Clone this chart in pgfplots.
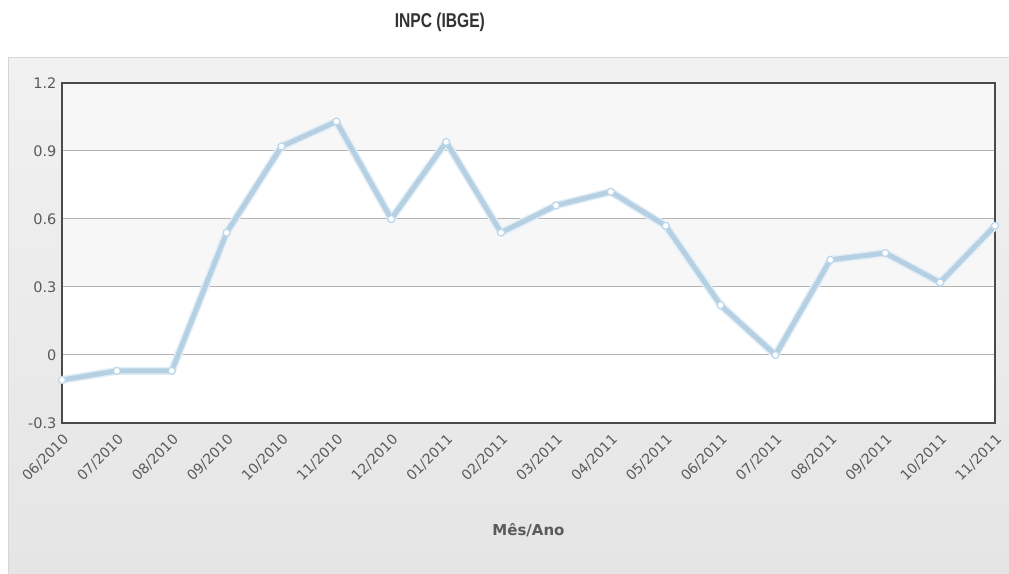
\documentclass[border=0pt]{standalone}
\usepackage{pgfplots}
\pgfplotsset{compat=1.18}
\usepackage{fontspec}
\setmainfont{DejaVu Sans}
\newfontfamily\titlefont[FakeStretch=0.78]{Liberation Sans}

\definecolor{paneltop}{HTML}{F1F1F1}
\definecolor{panelbot}{HTML}{E5E5E5}
\definecolor{panelborder}{HTML}{D6D6D6}
\definecolor{bandgray}{HTML}{F7F7F7}
\definecolor{gridgray}{HTML}{B4B4B4}
\definecolor{framegray}{HTML}{4A4A4A}
\definecolor{labgray}{HTML}{5A5A5A}
\definecolor{linecol}{HTML}{B6D0E3}
\definecolor{halocol}{HTML}{E2EEF7}
\definecolor{markcol}{HTML}{BCD6EA}

% INPC (IBGE), variacao mensal
\pgfplotstableread{
x val
0 -0.11
1 -0.07
2 -0.07
3 0.54
4 0.92
5 1.03
6 0.60
7 0.94
8 0.54
9 0.66
10 0.72
11 0.57
12 0.22
13 0.00
14 0.42
15 0.45
16 0.32
17 0.57
}\inpc

\begin{document}
\begin{tikzpicture}
\useasboundingbox (0,0) rectangle (1009pt,573pt);
\fill[white] (0,0) rectangle (1009pt,573pt);
\shade[top color=paneltop, bottom color=panelbot] (8pt,0) rectangle (1012pt,515pt);
\draw[panelborder, line width=1pt] (8pt,-2pt) -- (8pt,515pt) -- (1012pt,515pt);
% plot area with alternating bands
\fill[white] (62pt,150pt) rectangle (995pt,490pt);
\fill[bandgray] (62pt,422pt) rectangle (995pt,490pt);
\fill[bandgray] (62pt,286pt) rectangle (995pt,354pt);

\begin{axis}[
  at={(62pt,150pt)}, anchor=south west,
  scale only axis, width=933pt, height=340pt,
  xmin=0, xmax=17, ymin=-0.3, ymax=1.2,
  clip=false,
  xtick=data,
  xticklabels={06/2010,07/2010,08/2010,09/2010,10/2010,11/2010,12/2010,01/2011,02/2011,03/2011,04/2011,05/2011,06/2011,07/2011,08/2011,09/2011,10/2011,11/2011},
  ytick={-0.3,0,0.3,0.6,0.9,1.2},
  yticklabels={-0.3,0,0.3,0.6,0.9,1.2},
  ymajorgrids,
  grid style={draw=gridgray, line width=1pt},
  major tick length=0pt,
  axis line style={draw=framegray, line width=2.5pt},
  tick label style={text=labgray},
  xticklabel style={font=\fontsize{14}{16}\selectfont, rotate=45, anchor=east,
    xshift=-6pt, yshift=-13pt, inner sep=1pt},
  yticklabel style={font=\fontsize{14.5}{16}\selectfont, xshift=-2pt},
  xlabel={\textbf{Mês/Ano}},
  xlabel style={at={(axis description cs:0.5,0)}, anchor=center, yshift=-107pt,
    font=\fontsize{15}{17}\selectfont, text=labgray},
  title={\titlefont\bfseries INPC (IBGE)},
  title style={at={(axis description cs:0.405,1)}, anchor=center, yshift=55pt,
    font=\fontsize{20}{22}\selectfont, text=black!80},
]
\addplot[halocol, line width=8pt, line join=round] table[x=x, y=val]{\inpc};
\addplot[linecol, line width=5pt, line join=round, mark=*, mark size=3.5pt,
  mark options={fill=white, draw=markcol, line width=1.2pt}] table[x=x, y=val]{\inpc};
\end{axis}
\end{tikzpicture}
\end{document}
